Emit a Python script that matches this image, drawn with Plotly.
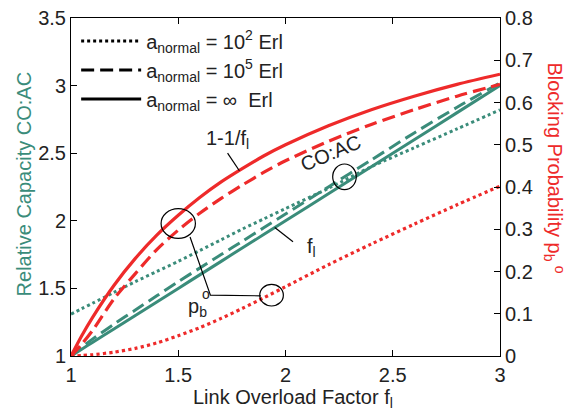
import plotly.graph_objects as go

# ---- data ----
f_l = [1.0, 1.05, 1.1, 1.2, 1.3, 1.4, 1.5, 1.6, 1.7, 1.8, 1.9, 2.0, 2.2, 2.4, 2.6, 2.8, 3.0]

# Relative capacity CO:AC (left axis)
coac_inf = [1.0, 1.05, 1.1, 1.2, 1.3, 1.4, 1.5, 1.6, 1.7, 1.8, 1.9, 2.0, 2.2, 2.4, 2.6, 2.8, 3.0]
coac_1e5 = [1.0, 1.065, 1.125, 1.235, 1.34, 1.445, 1.55, 1.65, 1.75, 1.85, 1.95, 2.05, 2.25, 2.45, 2.65, 2.84, 3.02]
coac_1e2 = [1.31, 1.35, 1.39, 1.47, 1.55, 1.625, 1.70, 1.78, 1.86, 1.94, 2.015, 2.09, 2.24, 2.40, 2.54, 2.68, 2.82]

# Blocking probability (right axis)
pb_inf = [0.0, 0.048, 0.091, 0.167, 0.231, 0.286, 0.333, 0.375, 0.412, 0.444, 0.474, 0.5, 0.545, 0.583, 0.615, 0.643, 0.667]
pb_1e5 = [0.0, 0.028, 0.06, 0.135, 0.195, 0.252, 0.298, 0.338, 0.373, 0.405, 0.435, 0.462, 0.508, 0.548, 0.583, 0.615, 0.643]
pb_1e2 = [0.0, 0.001, 0.003, 0.009, 0.018, 0.031, 0.048, 0.067, 0.089, 0.113, 0.138, 0.164, 0.216, 0.265, 0.312, 0.358, 0.402]

legend_labels = ["a<sub>normal</sub> = 10<sup>2</sup> Erl",
                 "a<sub>normal</sub> = 10<sup>5</sup> Erl",
                 "a<sub>normal</sub> = \u221e  Erl"]

x_ticks = [1, 1.5, 2, 2.5, 3]
y_ticks = [1, 1.5, 2, 2.5, 3, 3.5]
y2_ticks = [0, 0.1, 0.2, 0.3, 0.4, 0.5, 0.6, 0.7, 0.8]

GREEN = "#3A8C7A"
RED = "#EE2A2A"
FONT = "Liberation Sans, Arial, sans-serif"
DASH = "13px,6px"

fig = go.Figure()

for y, d in [(coac_1e2, "dot"), (coac_1e5, DASH), (coac_inf, "solid")]:
    fig.add_trace(go.Scatter(x=f_l, y=y, mode="lines", line=dict(color=GREEN, width=3, dash=d, shape="spline", smoothing=0.8),
                             showlegend=False, yaxis="y"))
for y, d in [(pb_1e2, "dot"), (pb_1e5, DASH), (pb_inf, "solid")]:
    fig.add_trace(go.Scatter(x=f_l, y=y, mode="lines", line=dict(color=RED, width=3.2, dash=d, shape="spline", smoothing=0.8),
                             showlegend=False, yaxis="y2"))

for lab, d in zip(legend_labels, ["dot", DASH, "solid"]):
    fig.add_trace(go.Scatter(x=[None], y=[None], mode="lines", name=lab,
                             line=dict(color="black", width=3, dash=d), showlegend=True))

# annotation circles and pointer lines
LW = 1.2
shapes = [
    dict(type="circle", xref="x", yref="y", x0=1.42, x1=1.58, y0=1.87, y1=2.09, line=dict(color="black", width=LW)),
    dict(type="circle", xref="x", yref="y", x0=1.88, x1=1.99, y0=1.37, y1=1.53, line=dict(color="black", width=LW)),
    dict(type="circle", xref="x", yref="y", x0=2.22, x1=2.33, y0=2.23, y1=2.42, line=dict(color="black", width=LW)),
    dict(type="path", xref="x", yref="y", path="M 1.555,1.88 L 1.65,1.45 L 1.885,1.445", line=dict(color="black", width=LW)),
    dict(type="line", xref="x", yref="y", x0=1.73, y0=2.5, x1=1.785, y1=2.37, line=dict(color="black", width=LW)),
    dict(type="line", xref="x", yref="y", x0=1.95, y0=1.95, x1=2.035, y1=1.845, line=dict(color="black", width=LW)),
]

TXT = dict(size=20, color="#222", family=FONT)
annotations = [
    dict(text="1-1/f<sub>l</sub>", x=1.73, y=2.6, xref="x", yref="y", showarrow=False, font=TXT),
    dict(text="CO:AC", x=2.21, y=2.5, xref="x", yref="y", showarrow=False, textangle=-23, font=TXT),
    dict(text="f<sub>l</sub>", x=2.12, y=1.8, xref="x", yref="y", showarrow=False, font=TXT),
    dict(text="p<sub>b</sub>", x=1.59, y=1.36, xref="x", yref="y", showarrow=False, font=TXT),
    dict(text="o", x=1.628, y=1.46, xref="x", yref="y", showarrow=False, font=dict(size=14, color="#222", family=FONT)),
    dict(text="Link Overload Factor f<sub>l</sub>", x=0.517, y=-0.125, xref="paper", yref="paper", showarrow=False,
         xanchor="center", yanchor="middle", font=TXT),
    dict(text="Relative Capacity CO:AC", x=-0.11, y=0.51, xref="paper", yref="paper", showarrow=False,
         textangle=-90, xanchor="center", yanchor="middle", font=dict(size=20, color=GREEN, family=FONT)),
    dict(text="Blocking Probability p<sub>b</sub>", x=1.124, y=0.575, xref="paper", yref="paper",
         showarrow=False, textangle=90, xanchor="center", yanchor="middle", font=dict(size=20, color=RED, family=FONT)),
    dict(text="o", x=1.14, y=0.255, xref="paper", yref="paper",
         showarrow=False, textangle=90, xanchor="center", yanchor="middle", font=dict(size=14, color=RED, family=FONT)),
]

axis_common = dict(showline=True, linecolor="black", linewidth=1, ticks="inside", ticklen=6,
                   tickcolor="black", showgrid=False, zeroline=False, automargin=False,
                   tickfont=dict(size=20, color="#222", family=FONT))

fig.update_layout(
    width=567, height=410,
    margin=dict(l=71, r=67, t=18, b=54),
    paper_bgcolor="white", plot_bgcolor="white",
    font=dict(family=FONT, color="#222"),
    xaxis=dict(range=[1, 3], tickvals=x_ticks, ticktext=[str(v) for v in x_ticks], mirror="ticks",
               ticklabelstandoff=1, **axis_common),
    yaxis=dict(range=[1, 3.5], tickvals=y_ticks, ticktext=["1", "1.5", "2", "2.5", "3", "3.5"], **axis_common),
    yaxis2=dict(range=[0, 0.8], tickvals=y2_ticks, ticktext=["0", "0.1", "0.2", "0.3", "0.4", "0.5", "0.6", "0.7", "0.8"],
                overlaying="y", side="right", **axis_common),
    legend=dict(x=0.012, y=0.99, xanchor="left", yanchor="top", bgcolor="rgba(0,0,0,0)",
                font=dict(size=20, color="#222", family=FONT), itemwidth=60, tracegroupgap=0),
    shapes=shapes,
    annotations=annotations,
)

fig.write_html("out.html")
